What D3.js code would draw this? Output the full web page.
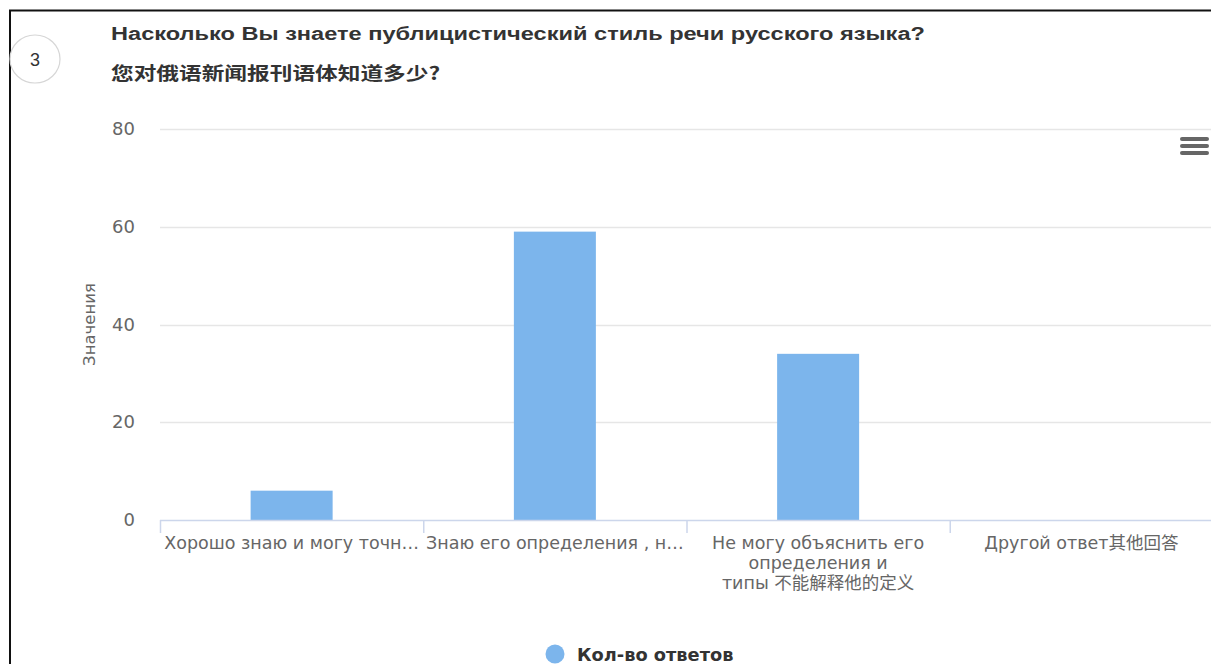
<!DOCTYPE html>
<html>
<head>
<meta charset="utf-8">
<script src="https://cdn.jsdelivr.net/npm/d3@7"></script>
<style>
  html, body { margin: 0; padding: 0; background: #fff; }
  svg { display: block; }
</style>
</head>
<body>
<svg id="chart" width="1211" height="664"></svg>
<script>
// Survey question 3: answer counts per option
const questionNumber = "3";
const titleLines = [
  "Насколько Вы знаете публицистический стиль речи русского языка?",
  "您对俄语新闻报刊语体知道多少?"
];
const categories = [
  ["Хорошо знаю и могу точн…"],
  ["Знаю его определения , н…"],
  ["Не могу объяснить его", "определения и", "типы 不能解释他的定义"],
  ["Другой ответ其他回答"]
];
const values = [6, 59, 34, 0];
const yTicks = [0, 20, 40, 60, 80];
const yAxisTitle = "Значения";
const seriesName = "Кол-во ответов";

const svg = d3.select("#chart");
const W = 1211, H = 664;
const margin = { left: 160, right: -2, top: 129, bottom: 144 };

const sansLabel = "'DejaVu Sans', Verdana, 'Noto Sans CJK SC', sans-serif";
const sansTitle = "'Liberation Sans', Arial, sans-serif";
const cjkTitle = "'Noto Sans CJK SC', sans-serif";

// outer panel frame
svg.append("rect")
  .attr("x", 10).attr("y", 10.5)
  .attr("width", W + 20).attr("height", H + 20)
  .attr("fill", "none").attr("stroke", "#111").attr("stroke-width", 2);

// numbered badge
svg.append("ellipse")
  .attr("cx", 35).attr("cy", 59).attr("rx", 25).attr("ry", 24)
  .attr("fill", "#fff").attr("stroke", "#d6d6d6").attr("stroke-width", 1.2);
svg.append("text")
  .attr("x", 35).attr("y", 66)
  .attr("text-anchor", "middle")
  .attr("font-family", sansTitle).attr("font-size", 18).attr("fill", "#333")
  .text(questionNumber);

// title (set in a wide, horizontally stretched bold face)
const titleStyle = [
  { family: sansTitle, size: 18, stretch: 1.31, baseline: 40 },
  { family: cjkTitle, size: 18, stretch: 1.26, baseline: 80 }
];
svg.selectAll("text.title").data(titleLines).join("text")
  .attr("class", "title")
  .attr("transform", (d, i) => `translate(111,${titleStyle[i].baseline}) scale(${titleStyle[i].stretch},1)`)
  .attr("font-family", (d, i) => titleStyle[i].family)
  .attr("font-weight", "bold").attr("font-size", (d, i) => titleStyle[i].size).attr("fill", "#333")
  .text(d => d);

const x = d3.scaleBand()
  .domain(d3.range(categories.length))
  .range([margin.left, W - margin.right])
  .paddingInner(0).paddingOuter(0);

const y = d3.scaleLinear()
  .domain([0, 80])
  .range([H - margin.bottom, margin.top]);

// gridlines
svg.append("g")
  .selectAll("line").data(yTicks.filter(t => t > 0)).join("line")
  .attr("x1", margin.left).attr("x2", W)
  .attr("y1", d => Math.round(y(d)) + 0.5).attr("y2", d => Math.round(y(d)) + 0.5)
  .attr("stroke", "#e6e6e6").attr("stroke-width", 1.5);

// y tick labels
svg.append("g")
  .selectAll("text").data(yTicks).join("text")
  .attr("x", 135).attr("y", d => y(d) + 6)
  .attr("text-anchor", "end")
  .attr("font-family", sansLabel).attr("font-size", 18).attr("fill", "#666")
  .text(d => d);

// y axis title
svg.append("text")
  .attr("transform", `translate(95,${(y(0) + y(80)) / 2}) rotate(-90)`)
  .attr("text-anchor", "middle")
  .attr("font-family", sansLabel).attr("font-size", 16.5).attr("fill", "#666")
  .text(yAxisTitle);

// bars
const barW = 82;
svg.append("g")
  .selectAll("rect").data(values).join("rect")
  .attr("x", (d, i) => x(i) + x.bandwidth() / 2 - barW / 2)
  .attr("y", d => y(d))
  .attr("width", barW)
  .attr("height", d => y(0) - y(d))
  .attr("fill", "#7cb5ec");

// x axis line and category ticks
const xAxis = svg.append("g");
xAxis.append("line")
  .attr("x1", margin.left).attr("x2", W)
  .attr("y1", y(0) + 0.5).attr("y2", y(0) + 0.5)
  .attr("stroke", "#ccd6eb").attr("stroke-width", 1.5);
xAxis.selectAll("line.tick").data(d3.range(categories.length + 1)).join("line")
  .attr("class", "tick")
  .attr("x1", i => (i < categories.length ? x(i) : W - margin.right) + 0.5)
  .attr("x2", i => (i < categories.length ? x(i) : W - margin.right) + 0.5)
  .attr("y1", y(0)).attr("y2", y(0) + 13)
  .attr("stroke", "#ccd6eb").attr("stroke-width", 1.5);

// x category labels
const labels = xAxis.selectAll("text.cat").data(categories).join("text")
  .attr("class", "cat")
  .attr("text-anchor", "middle")
  .attr("font-family", sansLabel).attr("font-size", 17.5).attr("fill", "#666");
labels.each(function (lines, i) {
  d3.select(this).selectAll("tspan").data(lines).join("tspan")
    .attr("x", x(i) + x.bandwidth() / 2)
    .attr("y", (d, j) => 549 + j * 20)
    .text(d => d);
});

// export menu icon
svg.append("g")
  .selectAll("line").data([0, 1, 2]).join("line")
  .attr("x1", 1182).attr("x2", 1207)
  .attr("y1", d => 139 + d * 7).attr("y2", d => 139 + d * 7)
  .attr("stroke", "#666").attr("stroke-width", 4).attr("stroke-linecap", "round");

// legend
const legend = svg.append("g");
legend.append("circle")
  .attr("cx", 555).attr("cy", 654).attr("r", 9.5)
  .attr("fill", "#7cb5ec");
legend.append("text")
  .attr("x", 577).attr("y", 661)
  .attr("font-family", sansLabel).attr("font-weight", "bold").attr("font-size", 17.8).attr("fill", "#333")
  .text(seriesName);
</script>
</body>
</html>
